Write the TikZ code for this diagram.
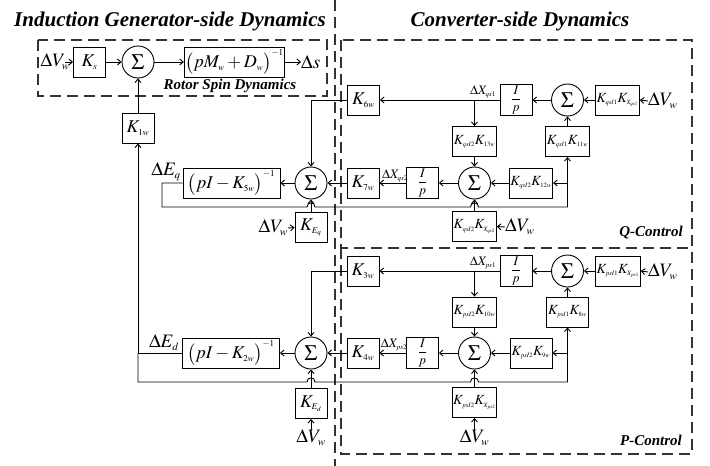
\documentclass[tikz,border=0pt]{standalone}
\usepackage{mathptmx}
\usepackage{fontspec}
\setmainfont{Liberation Serif}
\usetikzlibrary{arrows.meta}
\definecolor{LineBlack}{HTML}{000000}
\definecolor{ZoneGray}{HTML}{333333}
\definecolor{PaperWhite}{HTML}{FFFFFF}
\DeclareMathSizes{13}{13}{7}{5}
\DeclareMathSizes{14}{14}{6.5}{5}
\DeclareMathSizes{18}{18}{9}{7}
\DeclareMathSizes{19}{19}{11}{8}
\tikzset{
  blk/.style={draw=LineBlack,line width=0.9pt,minimum width=32pt,minimum height=30pt,
    inner sep=1pt,font=\fontsize{18}{18}\selectfont},
  dblk/.style={blk,minimum width=42pt,font=\fontsize{14}{14}\selectfont},
  wblk/.style={blk,minimum width=97pt,font=\fontsize{18}{18}\selectfont},
  ipblk/.style={blk,font=\fontsize{13}{13}\selectfont},
  sumnode/.style={draw=LineBlack,line width=0.9pt,circle,minimum size=32pt,inner sep=0pt,
    font=\fontsize{22}{22}\selectfont},
  sig/.style={inner sep=0pt,font=\fontsize{19}{19}\selectfont},
  xsig/.style={inner sep=0pt,font=\fontsize{13}{13}\selectfont},
  title/.style={font=\bfseries\itshape\fontsize{21}{21}\selectfont},
  tag/.style={font=\bfseries\itshape\fontsize{15}{15}\selectfont},
  zone/.style={draw=ZoneGray,line width=1.2pt,dash pattern=on 11pt off 6pt},
  wire/.style={draw=LineBlack,line width=0.9pt},
  flow/.style={wire,-{Straight Barb[length=3.5pt,width=6pt]}},
}

\begin{document}
\begin{tikzpicture}[x=1pt,y=-1pt]
  \fill[PaperWhite] (0,0) rectangle (710,466);
  \useasboundingbox (0,0) rectangle (710,466);

  % zones
  \node[title] (ttlL) at (170,21) {Induction Generator-side Dynamics};
  \node[title] (ttlR) at (520,21) {Converter-side Dynamics};
  \draw[zone] (335,0) -- (335,466);
  \draw[zone] (38,40) rectangle (327,96);
  \draw[zone] (341,40) rectangle (692,248);
  \draw[zone] (341,248) -- (341,454) -- (692,454) -- (692,248);
  \node[tag] (rsd) at (230,86) {Rotor Spin Dynamics};
  \node[tag] (qctl) at (651,233) {Q-Control};
  \node[tag] (pctl) at (651,440) {P-Control};

  % rotor spin
  \node[sig,anchor=east] (dv0) at (70,62) {$\Delta V_w$};
  \node[blk] (ks) at (89.5,62) {$K_s$};
  \node[sumnode] (sumS) at (138,62) {$\Sigma$};
  \node[wblk] (rotor) at (234.5,62) {$\bigl(pM_w+D_w\bigr)^{-1}$};
  \node[sig,anchor=west] (ds) at (301,62) {$\Delta s$};
  \node[blk] (k1) at (138,128) {$K_{1w}$};
  \draw[flow] ([xshift=-5pt]dv0.east) -- (ks.west);
  \draw[flow] (ks.east) -- (sumS.west);
  \draw[flow] (sumS.east) -- (rotor.west);
  \draw[flow] (rotor.east) -- (ds.west);
  \draw[flow] (k1.north) -- (sumS.south);

  % E_q loop
  \node[sumnode] (sumQ) at (311,183) {$\Sigma$};
  \node[wblk] (plantQ) at (231.5,183) {$\bigl(pI-K_{5w}\bigr)^{-1}$};
  \node[sig,anchor=south] (eq) at (166,181) {$\Delta E_q$};
  \node[blk] (keq) at (311,227.5) {$K_{E_q}$};
  \node[sig,anchor=east] (dv2) at (288,228) {$\Delta V_w$};
  \node[blk] (k6) at (363.5,100) {$K_{6w}$};
  \node[blk] (k7) at (363,183) {$K_{7w}$};
  \draw[flow] (k6.west) -| (sumQ.north);
  \draw[flow] (k7.west) -- (sumQ.east);
  \draw[flow] (keq.north) -- (sumQ.south);
  \draw[flow] (dv2.east) -- (keq.west);
  \draw[flow] (sumQ.west) -- (plantQ.east);

  % E_d loop
  \node[sumnode] (sumD) at (311,353) {$\Sigma$};
  \node[wblk] (plantD) at (231,353) {$\bigl(pI-K_{2w}\bigr)^{-1}$};
  \node[sig,anchor=south] (ed) at (164,351) {$\Delta E_d$};
  \node[blk] (ked) at (311,403.5) {$K_{E_d}$};
  \node[sig] (dv3) at (311,438) {$\Delta V_w$};
  \node[blk] (k3) at (363,271) {$K_{3w}$};
  \node[blk] (k4) at (363,353) {$K_{4w}$};
  \draw[flow] (k3.west) -| (sumD.north);
  \draw[flow] (k4.west) -- (sumD.east);
  \draw[flow] (ked.north) -- (sumD.south);
  \draw[flow] (dv3.north) -- (ked.south);
  \draw[flow] (sumD.west) -- (plantD.east);
  \coordinate (edtap) at (138,353);
  \draw[wire] (plantD.west) -- (edtap);
  \draw[flow] (edtap) -- (k1.south);

  % Q-control
  \node[ipblk] (ip1q) at (516,100) {$\displaystyle\frac{I}{p}$};
  \node[sumnode] (sum1q) at (567.5,100) {$\Sigma$};
  \node[dblk] (kq1) at (617.5,100) {$K_{qsI1}K_{X_{qs1}}$};
  \node[sig,anchor=west] (dvq1) at (648,101) {$\Delta V_w$};
  \node[xsig,anchor=south] (xq1) at (483,98) {$\Delta X_{qs1}$};
  \node[dblk] (kq13) at (474.5,141.5) {$K_{qsI2}K_{13w}$};
  \node[dblk] (kq11) at (567.5,141.5) {$K_{qsI1}K_{11w}$};
  \node[sumnode] (sum2q) at (474.5,183) {$\Sigma$};
  \node[ipblk] (ip2q) at (422.5,183) {$\displaystyle\frac{I}{p}$};
  \node[xsig,anchor=south] (xq2) at (395,182) {$\Delta X_{qs2}$};
  \node[dblk] (kq12) at (531,183) {$K_{qsI2}K_{12w}$};
  \node[dblk] (kqx2) at (474.5,226.5) {$K_{qsI2}K_{X_{qs2}}$};
  \node[sig,anchor=west] (dvq2) at (505,227) {$\Delta V_w$};
  \draw[flow] (dvq1.west) -- (kq1.east);
  \draw[flow] (kq1.west) -- (sum1q.east);
  \draw[flow] (sum1q.west) -- (ip1q.east);
  \draw[flow] (ip1q.west) -- (k6.east);
  \draw[flow] (kq13.north |- ip1q.west) -- (kq13.north);
  \draw[flow] (kq13.south) -- (sum2q.north);
  \draw[flow] (kq11.north) -- (sum1q.south);
  \draw[flow] (kq12.west) -- (sum2q.east);
  \draw[flow] (sum2q.west) -- (ip2q.east);
  \draw[flow] (ip2q.west) -- (k7.east);
  \draw[flow] (kqx2.north) -- (sum2q.south);
  \draw[flow] (dvq2.west) -- (kqx2.east);
  \coordinate (eqtap) at (567.5,183);
  \draw[wire] (plantQ.west) -- (162,183) -- (162,207) -- (307,207)
    .. controls (307,201.5) and (315,201.5) .. (315,207) -- (470.5,207)
    .. controls (470.5,201.5) and (478.5,201.5) .. (478.5,207) -- (567.5,207) -- (eqtap);
  \draw[flow] (eqtap) -- (kq12.east);
  \draw[flow] (eqtap) -- (kq11.south);

  % P-control
  \node[ipblk] (ip1p) at (516,271) {$\displaystyle\frac{I}{p}$};
  \node[sumnode] (sum1p) at (567.5,271) {$\Sigma$};
  \node[dblk] (kp1) at (618,271) {$K_{psI1}K_{X_{ps1}}$};
  \node[sig,anchor=west] (dvp1) at (648,272) {$\Delta V_w$};
  \node[xsig,anchor=south] (xp1) at (483,269) {$\Delta X_{ps1}$};
  \node[dblk] (kp10) at (474.5,312) {$K_{psI2}K_{10w}$};
  \node[dblk] (kp8) at (567.5,312) {$K_{psI1}K_{8w}$};
  \node[sumnode] (sum2p) at (474.5,353) {$\Sigma$};
  \node[ipblk] (ip2p) at (422.5,353) {$\displaystyle\frac{I}{p}$};
  \node[xsig,anchor=south] (xp2) at (394,351) {$\Delta X_{ps2}$};
  \node[dblk] (kp9) at (531,353) {$K_{psI2}K_{9w}$};
  \node[dblk] (kpx2) at (474.5,402.5) {$K_{psI2}K_{X_{ps2}}$};
  \node[sig] (dvp2) at (474.5,438) {$\Delta V_w$};
  \draw[flow] (dvp1.west) -- (kp1.east);
  \draw[flow] (kp1.west) -- (sum1p.east);
  \draw[flow] (sum1p.west) -- (ip1p.east);
  \draw[flow] (ip1p.west) -- (k3.east);
  \draw[flow] (kp10.north |- ip1p.west) -- (kp10.north);
  \draw[flow] (kp10.south) -- (sum2p.north);
  \draw[flow] (kp8.north) -- (sum1p.south);
  \draw[flow] (kp9.west) -- (sum2p.east);
  \draw[flow] (sum2p.west) -- (ip2p.east);
  \draw[flow] (ip2p.west) -- (k4.east);
  \draw[flow] (kpx2.north) -- (sum2p.south);
  \draw[flow] (dvp2.north) -- (kpx2.south);
  \coordinate (edtap2) at (567.5,353);
  \draw[wire] (edtap) -- (138,382) -- (307,382)
    .. controls (307,376.5) and (315,376.5) .. (315,382) -- (470.5,382)
    .. controls (470.5,376.5) and (478.5,376.5) .. (478.5,382) -- (567.5,382) -- (edtap2);
  \draw[flow] (edtap2) -- (kp9.east);
  \draw[flow] (edtap2) -- (kp8.south);
\end{tikzpicture}
\end{document}
